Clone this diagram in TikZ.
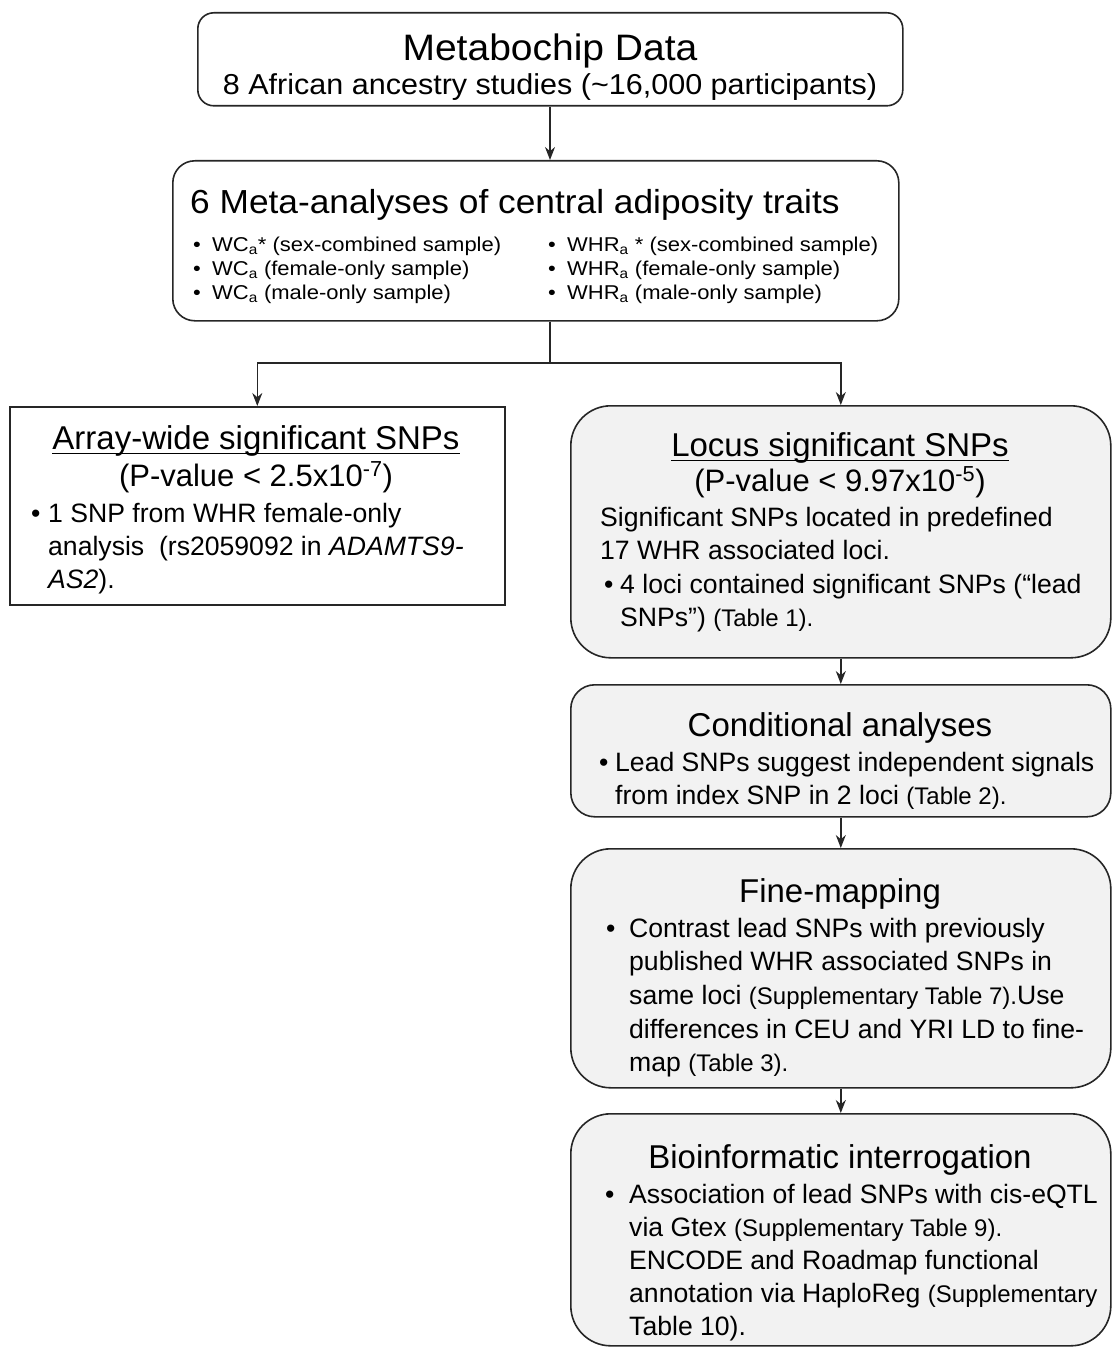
\documentclass[tikz,border=0pt]{standalone}
\usepackage{fontspec}
\setmainfont{Liberation Sans}
\newfontfamily\widefont[FakeStretch=1.06]{Liberation Sans}
\newfontfamily\widerfont[FakeStretch=1.1]{Liberation Sans}
\usetikzlibrary{arrows.meta}
\newcommand\ulx[1]{\setbox0\hbox{#1}\rlap{\rule[-5pt]{\wd0}{1.4pt}}\box0}
\newcommand\fS{\fontsize{24}{28}\selectfont}
\newcommand\bul[1]{\makebox[#1][l]{•}}
\tikzset{
  box/.style={draw=black!85, line width=1.6pt, fill=white, inner sep=0pt, anchor=north west},
  gbox/.style={box, fill=black!5},
  tc/.style={inner sep=0pt, anchor=base},
  tw/.style={inner sep=0pt, anchor=base west},
  ttl/.style={font=\fontsize{33}{38}\selectfont},
  pv/.style={font=\fontsize{31}{36}\selectfont},
  bd/.style={font=\fontsize{26.6}{32}\selectfont},
  nb/.style={font=\widerfont\fontsize{20}{24}\selectfont},
  conn/.style={line width=1.4pt, draw=black!85},
  arr/.style={conn, -{Stealth[length=13pt,width=10pt]}}
}
\begin{document}
\begin{tikzpicture}[x=1pt,y=-1pt]
\useasboundingbox (0,0) rectangle (1112,1351);
% boxes
\node[box, rounded corners=16pt, minimum width=705pt, minimum height=93pt] (top) at (197,12) {};
\node[box, rounded corners=22pt, minimum width=726pt, minimum height=160pt] (meta) at (172,160) {};
\node[box, minimum width=495pt, minimum height=198pt] (arr) at (9,406) {};
\node[gbox, rounded corners=40pt, minimum width=540pt, minimum height=252pt] (locus) at (570,405) {};
\node[gbox, rounded corners=24pt, minimum width=540pt, minimum height=132pt] (cond) at (570,684) {};
\node[gbox, rounded corners=40pt, minimum width=540pt, minimum height=239pt] (fine) at (570,848) {};
\node[gbox, rounded corners=40pt, minimum width=540pt, minimum height=232pt] (bio) at (570,1113) {};
% connectors
\coordinate (jn) at (550,363);
\draw[arr] (jn |- top.south) -- (jn |- meta.north);
\draw[conn] (jn |- meta.south) -- (jn);
\draw[arr] (jn) -| (arr.north);
\draw[arr] (jn) -| (locus.north);
\draw[arr] (locus.south) -- (cond.north);
\draw[arr] (cond.south) -- (fine.north);
\draw[arr] (fine.south) -- (bio.north);
% top box text
\node[tc, font=\widefont\fontsize{36.8}{44}\selectfont] (top1) at (550,61) {Metabochip Data};
\node[tc, font=\widefont\fontsize{28.8}{34}\selectfont] (top2) at (550,95) {8 African ancestry studies (\textasciitilde16,000 participants)};
% meta box text
\node[tw, font=\widefont\fontsize{33.3}{40}\selectfont] (m0) at (190,213) {6 Meta-analyses of central adiposity traits};
\node[tw, nb] (m1) at (193,251) {\bul{19pt}WC\textsubscript{a}* (sex-combined sample)};
\node[tw, nb] (m2) at (193,275) {\bul{19pt}WC\textsubscript{a} (female-only sample)};
\node[tw, nb] (m3) at (193,299) {\bul{19pt}WC\textsubscript{a} (male-only sample)};
\node[tw, nb] (m4) at (548,251) {\bul{19pt}WHR\textsubscript{a} * (sex-combined sample)};
\node[tw, nb] (m5) at (548,275) {\bul{19pt}WHR\textsubscript{a} (female-only sample)};
\node[tw, nb] (m6) at (548,299) {\bul{19pt}WHR\textsubscript{a} (male-only sample)};
% array-wide box text
\node[tc, ttl] (a0) at (256,449) {\ulx{Array-wide significant SNPs}};
\node[tc, pv] (a1) at (256,486) {(P-value < 2.5x10\textsuperscript{-7})};
\node[tw, bd] (a2) at (31,522) {\bul{17pt}1 SNP from WHR female-only};
\node[tw, bd] (a3) at (48,555) {analysis\ \ (rs2059092 in \textit{ADAMTS9-}};
\node[tw, bd] (a4) at (48,588) {\textit{AS2}).};
% locus box text
\node[tc, ttl] (l0) at (840,456) {\ulx{Locus significant SNPs}};
\node[tc, pv] (l1) at (840,491) {(P-value < 9.97x10\textsuperscript{-5})};
\node[tw, bd] (l2) at (600,526) {Significant SNPs located in predefined};
\node[tw, bd] (l3) at (600,559) {17 WHR associated loci.};
\node[tw, bd] (l4) at (604,593) {\bul{16pt}4 loci contained significant SNPs (“lead};
\node[tw, bd] (l5) at (620,626) {SNPs”) {\fS (Table 1).}};
% conditional box text
\node[tc, ttl] (c0) at (840,736) {Conditional analyses};
\node[tw, bd] (c1) at (599,771) {\bul{16pt}Lead SNPs suggest independent signals};
\node[tw, bd] (c2) at (615,804) {from index SNP in 2 loci {\fS (Table 2).}};
% fine-mapping box text
\node[tc, ttl] (f0) at (840,902) {Fine-mapping};
\node[tw, bd] (f1) at (606,937) {\bul{23pt}Contrast lead SNPs with previously};
\node[tw, bd] (f2) at (629,970) {published WHR associated SNPs in};
\node[tw, bd] (f3) at (629,1004) {same loci {\fS (Supplementary Table 7).}Use};
\node[tw, bd] (f4) at (629,1038) {differences in CEU and YRI LD to fine-};
\node[tw, bd] (f5) at (629,1071) {map {\fS (Table 3).}};
% bioinformatic box text
\node[tc, ttl] (b0) at (840,1168) {Bioinformatic interrogation};
\node[tw, bd] (b1) at (605,1203) {\bul{24pt}Association of lead SNPs with cis-eQTL};
\node[tw, bd] (b2) at (629,1236) {via Gtex {\fS (Supplementary Table 9).}};
\node[tw, bd] (b3) at (629,1269) {ENCODE and Roadmap functional};
\node[tw, bd] (b4) at (629,1302) {annotation via HaploReg {\fS (Supplementary}};
\node[tw, bd] (b5) at (629,1335) {Table 10).};
\end{tikzpicture}
\end{document}
